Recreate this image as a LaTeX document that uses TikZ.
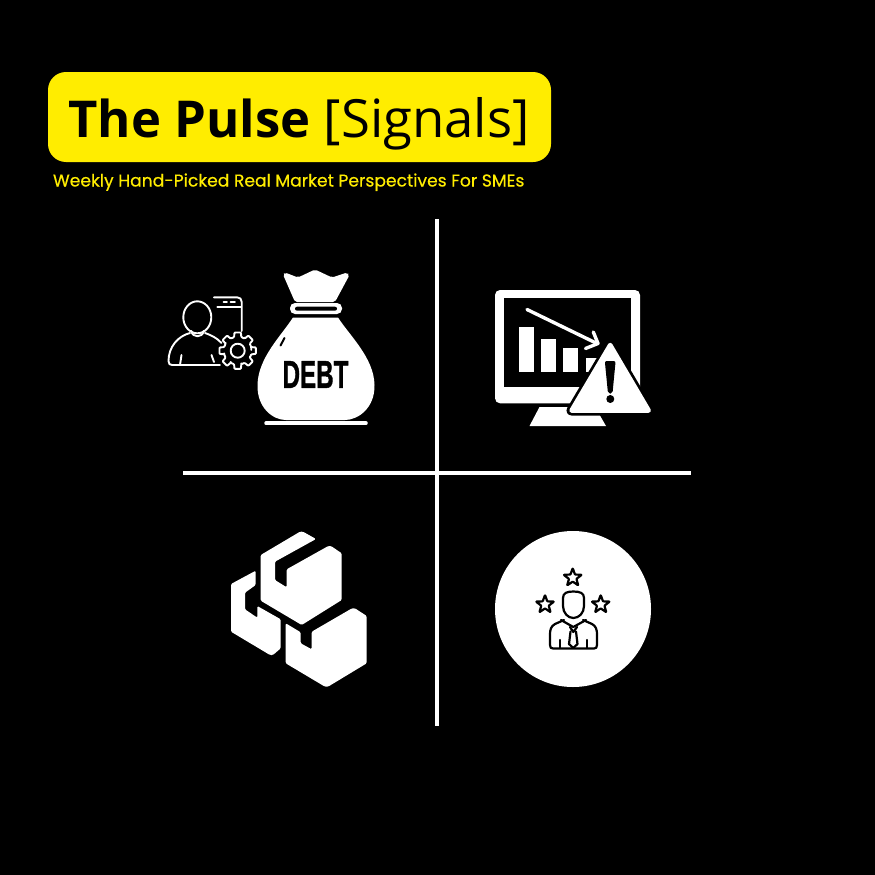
\documentclass[tikz,border=0pt]{standalone}
\usepackage{fontspec}
\setmainfont{Open Sans}
\newfontfamily\popf[FakeBold=0.45]{Poppins}
\newfontfamily\libs[FakeBold=1.3]{Liberation Sans}
\definecolor{brandy}{HTML}{FFED00}
\usetikzlibrary{calc}
\tikzset{
  thinl/.style={draw=white,line width=1.9pt,line cap=round,line join=round,fill=none},
  thinb/.style={draw=black,line width=2.2pt,line cap=round,line join=round,fill=none},
  txt/.style={inner sep=0pt,outer sep=0pt,anchor=base west},
  divider/.style={draw=white,line width=4pt}
}
\begin{document}
\begin{tikzpicture}[x=1pt,y=-1pt]
\useasboundingbox (0,0) rectangle (875,875);
\fill[black] (0,0) rectangle (875,875);
% banner
\fill[brandy,rounded corners=18pt] (48,72) rectangle (551,162);
\node[txt,text=black] (title) at (68.5,137) {\fontsize{50.8}{52}\selectfont\bfseries The Pulse \fontsize{52.7}{52}\selectfont\mdseries [Signals]};
\node[txt,text=brandy] (sub) at (53,186.5) {\popf\fontsize{17.15}{19}\selectfont Weekly Hand-Picked Real Market Perspectives For SMEs};
% dividers
\coordinate (vt) at (437,219); \coordinate (vb) at (437,726);
\coordinate (hl) at (183,472.5); \coordinate (hr) at (691,472.5);
\draw[divider] (vt) -- (vb);
\draw[divider] (hl) -- (hr);
% person
\draw[thinl] (197.3,317.3) ellipse [x radius=14,y radius=16];
\draw[thinl] (191.5,331) .. controls (192,338) and (203,338) .. (203.5,331);
\draw[thinl] (190,333) .. controls (178,336) and (168.5,347) .. (168.5,361) .. controls (168.5,364) and (170,365) .. (172,365) -- (220,365);
\draw[thinl] (205,333) .. controls (211,335) and (217,338) .. (221.5,343);
\draw[thinl] (181.5,355) -- (180,365);
\draw[thinl] (211.5,355) -- (214,362);
\draw[thinl] (214,297.3) -- (237,297.3) .. controls (240,297.3) and (241.7,299) .. (241.7,302) -- (241.7,331);
\draw[thinl] (217.3,306.7) -- (241,306.7);
\draw[thinl] (223.5,302.4) -- (227,302.4);
\draw[thinl] (230.5,302.4) -- (235,302.4);
% gear
\begin{scope}[shift={(237.7,350.7)}]
\draw[thinl,rounded corners=0.8pt,fill=black]
  (0:13.5) foreach \a in {0,45,...,315} {
    -- (\a-15:14) -- (\a-10:18.5) -- (\a+10:18.5) -- (\a+15:14) -- (\a+30:14)
  } -- cycle;
\draw[thinl] (0,0) circle (7);
\end{scope}
% money bag
\fill[white,rounded corners=2pt] (283,274.5) -- (285,272.5) -- (298,277.5) -- (315,269.5) -- (332,277.5) -- (347,272.5) -- (349.5,275) -- (335,302) -- (295,302) -- cycle;
\fill[white,rounded corners=5pt] (290,303) rectangle (342,314);
\fill[black,rounded corners=2pt] (295,306.7) rectangle (337,310.7);
\fill[white] (293,317.5) -- (338,317.5) .. controls (350,336) and (374,358) .. (374.5,385) .. controls (375,408) and (358,420) .. (345,420) -- (286,420) .. controls (273,420) and (257,408) .. (257.5,385) .. controls (258,358) and (281,336) .. (293,317.5) -- cycle;
\draw[black,line width=2pt,line cap=round] (284.5,338) -- (280.5,345.5);
\draw[white,line width=3.5pt,line cap=round] (266,423.2) -- (366,423.2);
\node[inner sep=0pt,outer sep=0pt,anchor=center,text=black,xscale=0.62] (debt) at (315.5,374.5) {\libs\fontsize{39}{39}\selectfont\bfseries DEBT};
% monitor
\fill[white,rounded corners=5pt] (495,290) rectangle (640,403.3);
\fill[black] (504.3,298.3) rectangle (630.7,386.7);
\fill[white] (539.5,407) -- (595,407) -- (606,426) -- (529.5,426) -- cycle;
\fill[white] (519.3,326.7) rectangle (534,372.3);
\fill[white] (541.3,339.3) rectangle (556,372.3);
\fill[white] (563.3,348.3) rectangle (578.3,372.3);
\fill[white] (585.7,358.3) rectangle (600,372.3);
\draw[white,line width=3.4pt,line cap=round,line join=round] (527,309.5) -- (597,343.5);
\draw[white,line width=3.4pt,line cap=round,line join=round] (593.3,332) -- (598,343.5) -- (585.5,348.5);
% warning
\draw[black,line width=10pt,line join=round] (610.2,345) -- (648.7,410.5) -- (571.5,410.5) -- cycle;
\draw[white,fill=white,line width=4.5pt,line join=round] (610.2,345) -- (648.7,410.5) -- (571.5,410.5) -- cycle;
\fill[black,rounded corners=2pt] (604.8,361) -- (615.6,361) -- (612.5,393.5) -- (608,393.5) -- cycle;
\fill[black] (610.3,399) circle (4);
% boxes
\fill[white,rounded corners=1.2pt] (260.7,555) -- (300,531.7) -- (303,531.7) -- (316,539) -- (275,561.7) -- (275,580) -- (286.7,587.3) -- (286.7,569.3) -- (328.3,546) -- (331,546) -- (341.7,553.3) -- (341.7,600) -- (301.7,625) -- (260.7,600.7) -- cycle;
\fill[white,rounded corners=1.2pt] (231,584) -- (255.7,570.7) -- (255.7,585) -- (245,592.7) -- (245,609.3) -- (257.3,617.7) -- (257.3,606) -- (280.7,619.3) -- (280.7,648.3) -- (273,655) -- (270,655) -- (231,631.7) -- cycle;
\fill[white,rounded corners=1.2pt] (285.7,623.3) -- (300.7,632.3) -- (300.7,643.3) -- (311.7,649.3) -- (311.7,631.7) -- (352,608.3) -- (355,608.3) -- (366.7,616) -- (366.7,663.3) -- (328,686.7) -- (325,686.7) -- (285.7,663.3) -- cycle;
% rating circle
\fill[white] (573,609) circle (78);
\foreach \cx/\cy in {572.7/577.7,545/604.5,600.7/604.5}{
  \draw[thinb,rounded corners=0.6pt] ($(\cx,\cy)+(-90:9.5)$)
    -- ($(\cx,\cy)+(-54:3.9)$) -- ($(\cx,\cy)+(-18:9.5)$)
    -- ($(\cx,\cy)+(18:3.9)$) -- ($(\cx,\cy)+(54:9.5)$)
    -- ($(\cx,\cy)+(90:3.9)$) -- ($(\cx,\cy)+(126:9.5)$)
    -- ($(\cx,\cy)+(162:3.9)$) -- ($(\cx,\cy)+(198:9.5)$)
    -- ($(\cx,\cy)+(234:3.9)$) -- cycle;
}
% person with tie
\draw[thinb] (563,598) .. controls (563,593) and (567,591.5) .. (573.3,591.5) .. controls (580,591.5) and (584,593) .. (584,598) -- (584,606) .. controls (584,613) and (579,618) .. (573.3,618) .. controls (568,618) and (563,613) .. (563,606) -- cycle;
\draw[thinb] (564,620) -- (555,624) .. controls (551,626) and (550,630) .. (550,634) -- (550,645) .. controls (550,647.5) and (551,648.5) .. (553,648.5) -- (594,648.5) .. controls (596,648.5) and (597,647.5) .. (597,645) -- (597,634) .. controls (597,630) and (596,626) .. (592,624) -- (583,620);
\draw[thinb] (561,620) -- (573.3,627) -- (586,620);
\draw[thinb] (570,627) -- (573.3,632) -- (577,627);
\draw[thinb] (570.5,631.5) -- (569,644) -- (573.3,648) -- (577.5,644) -- (576,631.5);
\draw[thinb] (560,640) -- (560,648);
\draw[thinb] (587,640) -- (587,648);
\end{tikzpicture}
\end{document}
